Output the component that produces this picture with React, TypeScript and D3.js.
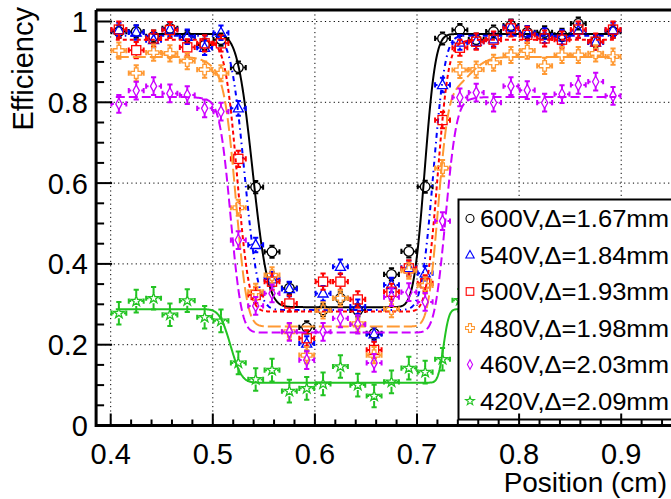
import React from 'react';
import * as d3 from 'd3';

const W = 671;
const H = 499;

// bin centres (cm)
const positions = [0.408, 0.425, 0.442, 0.458, 0.475, 0.492, 0.508, 0.525, 0.542, 0.558, 0.575, 0.592, 0.608, 0.625, 0.642, 0.658, 0.675, 0.692, 0.708, 0.725, 0.742, 0.758, 0.775, 0.792, 0.808, 0.825, 0.842, 0.858, 0.875, 0.892];

const labels = ['600V,\u0394=1.67mm', '540V,\u0394=1.84mm', '500V,\u0394=1.93mm', '480V,\u0394=1.98mm', '460V,\u0394=2.03mm', '420V,\u0394=2.09mm'];
const colors = ['#000000', '#0000ff', '#ff0000', '#ff9933', '#cc00ff', '#22c322'];
const shapes = ['circle', 'triangle', 'square', 'cross', 'diamond', 'star'];
const dashes = ['none', '5,4,1.5,4', '4,3', '13,4', '9,4', 'none'];

const eff600 = [0.975, 0.975, 0.963, 0.983, 0.962, 0.942, 0.955, 0.886, 0.590, 0.430, 0.340, 0.243, 0.286, 0.315, 0.285, 0.228, 0.374, 0.431, 0.591, 0.958, 0.979, 0.955, 0.975, 0.990, 0.973, 0.973, 0.967, 0.995, 0.950, 0.975];
const eff540 = [0.979, 0.973, 0.954, 0.980, 0.962, 0.935, 0.972, 0.785, 0.447, 0.362, 0.338, 0.203, 0.327, 0.393, 0.294, 0.226, 0.348, 0.390, 0.377, 0.843, 0.948, 0.950, 0.956, 0.986, 0.971, 0.965, 0.961, 0.977, 0.948, 0.979];
const eff500 = [0.980, 0.929, 0.958, 0.979, 0.936, 0.946, 0.946, 0.660, 0.323, 0.356, 0.302, 0.216, 0.356, 0.356, 0.312, 0.187, 0.331, 0.389, 0.352, 0.756, 0.935, 0.950, 0.955, 0.983, 0.967, 0.958, 0.955, 0.980, 0.950, 0.980];
const eff480 = [0.928, 0.872, 0.923, 0.921, 0.902, 0.881, 0.872, 0.539, 0.331, 0.372, 0.232, 0.174, 0.285, 0.315, 0.252, 0.174, 0.288, 0.383, 0.347, 0.637, 0.880, 0.881, 0.898, 0.917, 0.928, 0.890, 0.917, 0.917, 0.921, 0.913];
const eff460 = [0.796, 0.829, 0.840, 0.822, 0.818, 0.785, 0.777, 0.459, 0.296, 0.327, 0.232, 0.162, 0.232, 0.265, 0.250, 0.155, 0.318, 0.330, 0.306, 0.506, 0.812, 0.824, 0.799, 0.840, 0.830, 0.799, 0.820, 0.843, 0.851, 0.816];
const eff420 = [0.278, 0.308, 0.315, 0.274, 0.309, 0.268, 0.259, 0.155, 0.114, 0.137, 0.085, 0.092, 0.103, 0.146, 0.100, 0.073, 0.108, 0.142, 0.132, 0.164, 0.310, 0.295, 0.285, 0.300, 0.290, 0.280, 0.300, 0.290, 0.285, 0.295];
const effErr = [0.015, 0.018, 0.02, 0.02, 0.022, 0.028];
const posErr = 0.0073;

// fit parameters
const fitPlateau = [0.969, 0.965, 0.955, 0.912, 0.813, 0.288];
const fitShoulder = [0.969, 0.965, 0.94, 0.82, 0.80, 0.288];
const fitFloor = [0.293, 0.286, 0.282, 0.245, 0.230, 0.106];
const fitLeftEdge = [0.539, 0.531, 0.524, 0.523, 0.5175, 0.5175];
const fitLeftWidth = [0.0165, 0.015, 0.013, 0.012, 0.012, 0.012];
const fitRightEdge = [0.7075, 0.716, 0.720, 0.7205, 0.728, 0.726];
const fitRightWidth = [0.012, 0.013, 0.012, 0.011, 0.012, 0.006];
const fitShoulderLeft = [0, 0, 0.02, 0.014, 0.02, 0];
const fitShoulderRight = [0, 0, 0.02, 0.03, 0.02, 0];
const fitShoulderWidth = [0.02, 0.02, 0.015, 0.02, 0.015, 0.02];
const fitStart = [0.44, 0.405, 0.405, 0.405, 0.405, 0.405];
const fitEnd = [0.895, 0.895, 0.895, 0.895, 0.895, 0.895];

const xTicks = [0.4, 0.5, 0.6, 0.7, 0.8, 0.9];
const xTickLabels = ['0.4', '0.5', '0.6', '0.7', '0.8', '0.9'];
const yTicks = [0, 0.2, 0.4, 0.6, 0.8, 1];
const yTickLabels = ['0', '0.2', '0.4', '0.6', '0.8', '1'];

const allEff = [eff600, eff540, eff500, eff480, eff460, eff420];

function erf(v: number) {
  const t = 1 / (1 + 0.3275911 * Math.abs(v));
  const yv = 1 - ((((1.061405429 * t - 1.453152027) * t + 1.421413741) * t - 0.284496736) * t + 0.254829592) * t * Math.exp(-v * v);
  return v >= 0 ? yv : -yv;
}

const x = d3.scaleLinear().domain([0.4, 0.9]).range([110.7, 621.2]);
const y = d3.scaleLinear().domain([0, 1]).range([425.5, 21.5]);

const frameL = x(0.3857);
const frameT = y(1.0285);
const frameB = y(0);
const frameR = 720;

function Marker({ shape, cx, cy, s, color, sw }: any) {
  const r = s;
  if (shape === 'circle') return <circle cx={cx} cy={cy} r={r} fill="none" stroke={color} strokeWidth={sw} />;
  if (shape === 'triangle') {
    const p = `${cx},${cy - r * 1.15} ${cx + r * 1.05},${cy + r * 0.75} ${cx - r * 1.05},${cy + r * 0.75}`;
    return <polygon points={p} fill="none" stroke={color} strokeWidth={sw} />;
  }
  if (shape === 'square') return <rect x={cx - r * 0.95} y={cy - r * 0.95} width={r * 1.9} height={r * 1.9} fill="none" stroke={color} strokeWidth={sw} />;
  if (shape === 'diamond') {
    const p = `${cx},${cy - r * 1.2} ${cx + r * 0.65},${cy} ${cx},${cy + r * 1.2} ${cx - r * 0.65},${cy}`;
    return <polygon points={p} fill="none" stroke={color} strokeWidth={sw} />;
  }
  if (shape === 'cross') {
    const a = r * 1.1, b = r * 0.38;
    const p = [[-b, -a], [b, -a], [b, -b], [a, -b], [a, b], [b, b], [b, a], [-b, a], [-b, b], [-a, b], [-a, -b], [-b, -b]]
      .map(([u, v]) => `${cx + u},${cy + v}`).join(' ');
    return <polygon points={p} fill="none" stroke={color} strokeWidth={sw} />;
  }
  const pts: string[] = [];
  for (let k = 0; k < 10; k++) {
    const ang = -Math.PI / 2 + (k * Math.PI) / 5;
    const rr = k % 2 === 0 ? r * 1.15 : r * 0.45;
    pts.push(`${cx + rr * Math.cos(ang)},${cy + rr * Math.sin(ang)}`);
  }
  return <polygon points={pts.join(' ')} fill="none" stroke={color} strokeWidth={sw} />;
}

function fitPath(k: number) {
  const a = fitPlateau[k], c = fitShoulder[k], b = fitFloor[k];
  const step = (v: number, l: number, sl: number, r: number, sr: number) =>
    0.5 * (1 - erf((v - l) / sl)) + 0.5 * (1 + erf((v - r) / sr));
  const f = (v: number) =>
    b + (c - b) * step(v, fitLeftEdge[k], fitLeftWidth[k], fitRightEdge[k], fitRightWidth[k]) +
    (a - c) * step(v, fitLeftEdge[k] - fitShoulderLeft[k], fitShoulderWidth[k], fitRightEdge[k] + fitShoulderRight[k], fitShoulderWidth[k]);
  const xs = d3.range(fitStart[k], fitEnd[k] + 1e-9, 0.0005);
  return d3.line<number>().x(v => x(v)).y(v => y(f(v)))(xs) || '';
}

export default function App() {
  const gap = 5;
  const cap = 2.6;
  return (
    <svg width={W} height={H} style={{ position: 'absolute', left: 0, top: 0, background: '#fff' }} fontFamily="'Liberation Sans', Arial, Helvetica, sans-serif">
      <defs>
        <clipPath id="plot">
          <rect x={frameL} y={frameT} width={frameR - frameL} height={frameB - frameT} />
        </clipPath>
      </defs>
      <rect x={0} y={0} width={W} height={H} fill="#fff" />
      <g stroke="#000" strokeWidth={1} strokeDasharray="1.2,3.2">
        {xTicks.map(t => <line key={'gx' + t} x1={x(t)} x2={x(t)} y1={frameT} y2={frameB} />)}
        {yTicks.filter(t => t > 0).map(t => <line key={'gy' + t} x1={frameL} x2={frameR} y1={y(t)} y2={y(t)} />)}
      </g>
      <g clipPath="url(#plot)">
        {allEff.map((vals, k) => (
          <g key={'s' + k}>
            <path d={fitPath(k)} fill="none" stroke={colors[k]} strokeWidth={2} strokeDasharray={dashes[k]} />
            {vals.map((v, i) => {
              const cx = x(positions[i]);
              const cy = y(v);
              const ex1 = x(positions[i] - posErr), ex2 = x(positions[i] + posErr);
              const ey1 = y(v + effErr[k]), ey2 = y(v - effErr[k]);
              const c = colors[k];
              return (
                <g key={i} stroke={c} strokeWidth={2}>
                  <line x1={ex1} x2={cx - gap} y1={cy} y2={cy} />
                  <line x1={cx + gap} x2={ex2} y1={cy} y2={cy} />
                  <line x1={cx} x2={cx} y1={ey1} y2={cy - gap} />
                  <line x1={cx} x2={cx} y1={cy + gap} y2={ey2} />
                  <line x1={ex1} x2={ex1} y1={cy - cap} y2={cy + cap} />
                  <line x1={ex2} x2={ex2} y1={cy - cap} y2={cy + cap} />
                  <line x1={cx - cap} x2={cx + cap} y1={ey1} y2={ey1} />
                  <line x1={cx - cap} x2={cx + cap} y1={ey2} y2={ey2} />
                  <Marker shape={shapes[k]} cx={cx} cy={cy} s={4.8} color={c} sw={1.3} />
                </g>
              );
            })}
          </g>
        ))}
      </g>
      <rect x={458.5} y={199.5} width={260} height={220} fill="#fff" stroke="#000" strokeWidth={2} />
      {labels.map((lab, k) => {
        const cy = 218.5 + k * 36.5;
        return (
          <g key={'l' + k}>
            <Marker shape={shapes[k]} cx={470} cy={cy} s={4} color={colors[k]} sw={1.1} />
            <text x={480} y={cy + 8.5} fontSize={23} textLength={189} lengthAdjust="spacingAndGlyphs" fill="#000">{lab}</text>
          </g>
        );
      })}
      <g stroke="#000" strokeWidth={3} fill="none">
        <line x1={frameL} x2={frameR} y1={frameT} y2={frameT} />
        <line x1={frameL} x2={frameR} y1={frameB} y2={frameB} />
        <line x1={frameL} x2={frameL} y1={frameT} y2={frameB + 1.5} />
      </g>
      <g stroke="#000" strokeWidth={2}>
        {d3.range(0.4, 1.0001, 0.02).map(t => {
          const major = Math.abs(t * 10 - Math.round(t * 10)) < 1e-6;
          return <line key={'xt' + t} x1={x(t)} x2={x(t)} y1={frameB} y2={frameB - (major ? 12 : 6)} />;
        })}
        {d3.range(0, 1.0001, 0.05).map(t => {
          const major = Math.abs(t * 5 - Math.round(t * 5)) < 1e-6;
          return <line key={'yt' + t} x1={frameL} x2={frameL + (major ? 16 : 8)} y1={y(t)} y2={y(t)} />;
        })}
      </g>
      <g fontSize={29} fill="#000">
        {xTicks.map((t, i) => <text key={'xl' + t} x={x(t)} y={464} textAnchor="middle">{xTickLabels[i]}</text>)}
        {yTicks.map((t, i) => <text key={'yl' + t} x={88} y={y(t) + 10.5} textAnchor="end">{yTickLabels[i]}</text>)}
      </g>
      <text x={667} y={492} fontSize={28} textAnchor="end" fill="#000">Position (cm)</text>
      <text transform="translate(33,7) rotate(-90)" fontSize={29} textAnchor="end" fill="#000">Efficiency</text>
    </svg>
  );
}
